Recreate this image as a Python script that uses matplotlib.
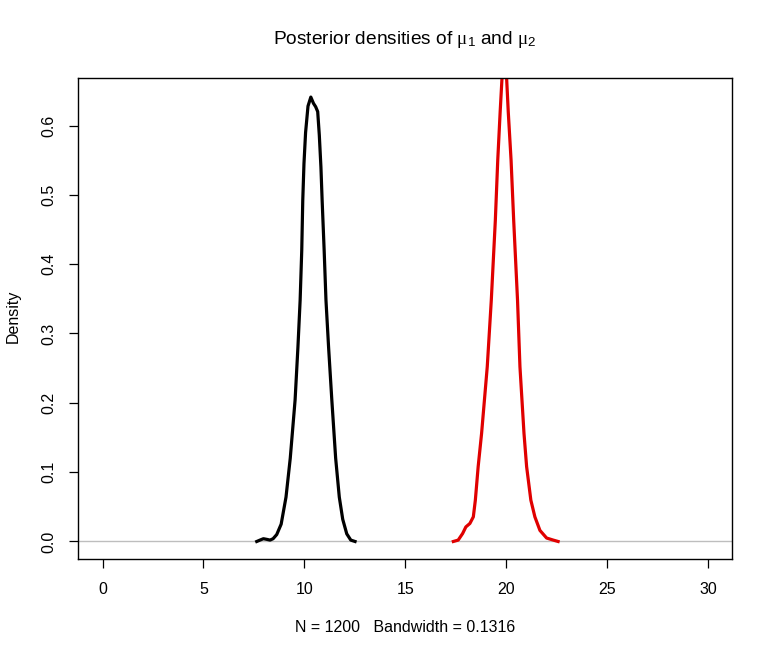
import matplotlib
matplotlib.use("Agg")
import matplotlib.pyplot as plt

# posterior density of mu1 (black)
mu1_x = [7.64, 7.80, 7.97, 8.15, 8.30, 8.45, 8.63, 8.85, 9.09, 9.30, 9.54, 9.68,
         9.79, 9.87, 9.92, 9.98, 10.06, 10.18, 10.32, 10.45, 10.56, 10.66, 10.74,
         10.82, 10.88, 10.98, 11.07, 11.20, 11.36, 11.55, 11.73, 11.90, 12.10,
         12.30, 12.51]
mu1_y = [0.0, 0.002, 0.004, 0.003, 0.002, 0.004, 0.010, 0.025, 0.064, 0.120,
         0.204, 0.280, 0.348, 0.420, 0.492, 0.545, 0.590, 0.628, 0.641, 0.632,
         0.627, 0.620, 0.586, 0.540, 0.492, 0.420, 0.348, 0.280, 0.204, 0.120,
         0.064, 0.032, 0.011, 0.002, 0.0]

# posterior density of mu2 (red)
mu2_x = [17.38, 17.62, 17.84, 18.00, 18.20, 18.37, 18.47, 18.61, 18.78, 19.06,
         19.26, 19.46, 19.58, 19.70, 19.79, 19.90, 20.02, 20.10, 20.24, 20.37,
         20.56, 20.68, 20.88, 21.01, 21.22, 21.42, 21.67, 22.00, 22.33, 22.57]
mu2_y = [0.0, 0.002, 0.0115, 0.021, 0.026, 0.0355, 0.0596, 0.108, 0.156, 0.252,
         0.348, 0.463, 0.550, 0.620, 0.668, 0.720, 0.668, 0.620, 0.550, 0.463,
         0.348, 0.252, 0.156, 0.108, 0.0596, 0.0355, 0.016, 0.005, 0.002, 0.0]

x_ticks = [0, 5, 10, 15, 20, 25, 30]
y_ticks = [0.0, 0.1, 0.2, 0.3, 0.4, 0.5, 0.6]
y_top = 0.6424  # max of first density, sets the y range like R does

plt.rcParams["font.family"] = ["Liberation Sans", "DejaVu Sans"]
plt.rcParams["mathtext.fontset"] = "custom"
plt.rcParams["mathtext.rm"] = "Liberation Sans"
plt.rcParams["mathtext.it"] = "Liberation Serif"

W, H = 773, 657
fig = plt.figure(figsize=(W / 100, H / 100), dpi=100)
left, right, top, bottom = 78.3, 732.3, 78.3, 559.3
ax = fig.add_axes([left / W, 1 - bottom / H, (right - left) / W, (bottom - top) / H])

ax.axhline(0, color="#BEBEBE", lw=1)
ax.plot(mu1_x, mu1_y, color="black", lw=2.3)
ax.plot(mu2_x, mu2_y, color="#E00000", lw=2.3)

ax.set_xlim(-1.2, 31.2)
ax.set_ylim(-0.04 * y_top, 1.04 * y_top)
ax.set_xticks(x_ticks)
ax.set_xticklabels([str(v) for v in x_ticks])
ax.set_yticks(y_ticks)
ax.set_yticklabels([f"{v:.1f}" for v in y_ticks], rotation=90, va="center")
ax.tick_params(direction="out", length=6.5, width=0.9, labelsize=11.5, color="black")
ax.tick_params(axis="x", pad=10)
ax.tick_params(axis="y", pad=9)
for s in ax.spines.values():
    s.set_linewidth(1.0)

fig.text(405 / W, 1 - 40 / H, r"Posterior densities of $\mu_1$ and $\mu_2$",
         ha="center", va="center", fontsize=13.8)
fig.text(405 / W, 1 - 627 / H, "N = 1200   Bandwidth = 0.1316",
         ha="center", va="center", fontsize=11.5)
fig.text(13 / W, 1 - 316 / H, "Density", ha="center", va="center",
         rotation=90, fontsize=11.5)

fig.savefig("out.png", dpi=100)
